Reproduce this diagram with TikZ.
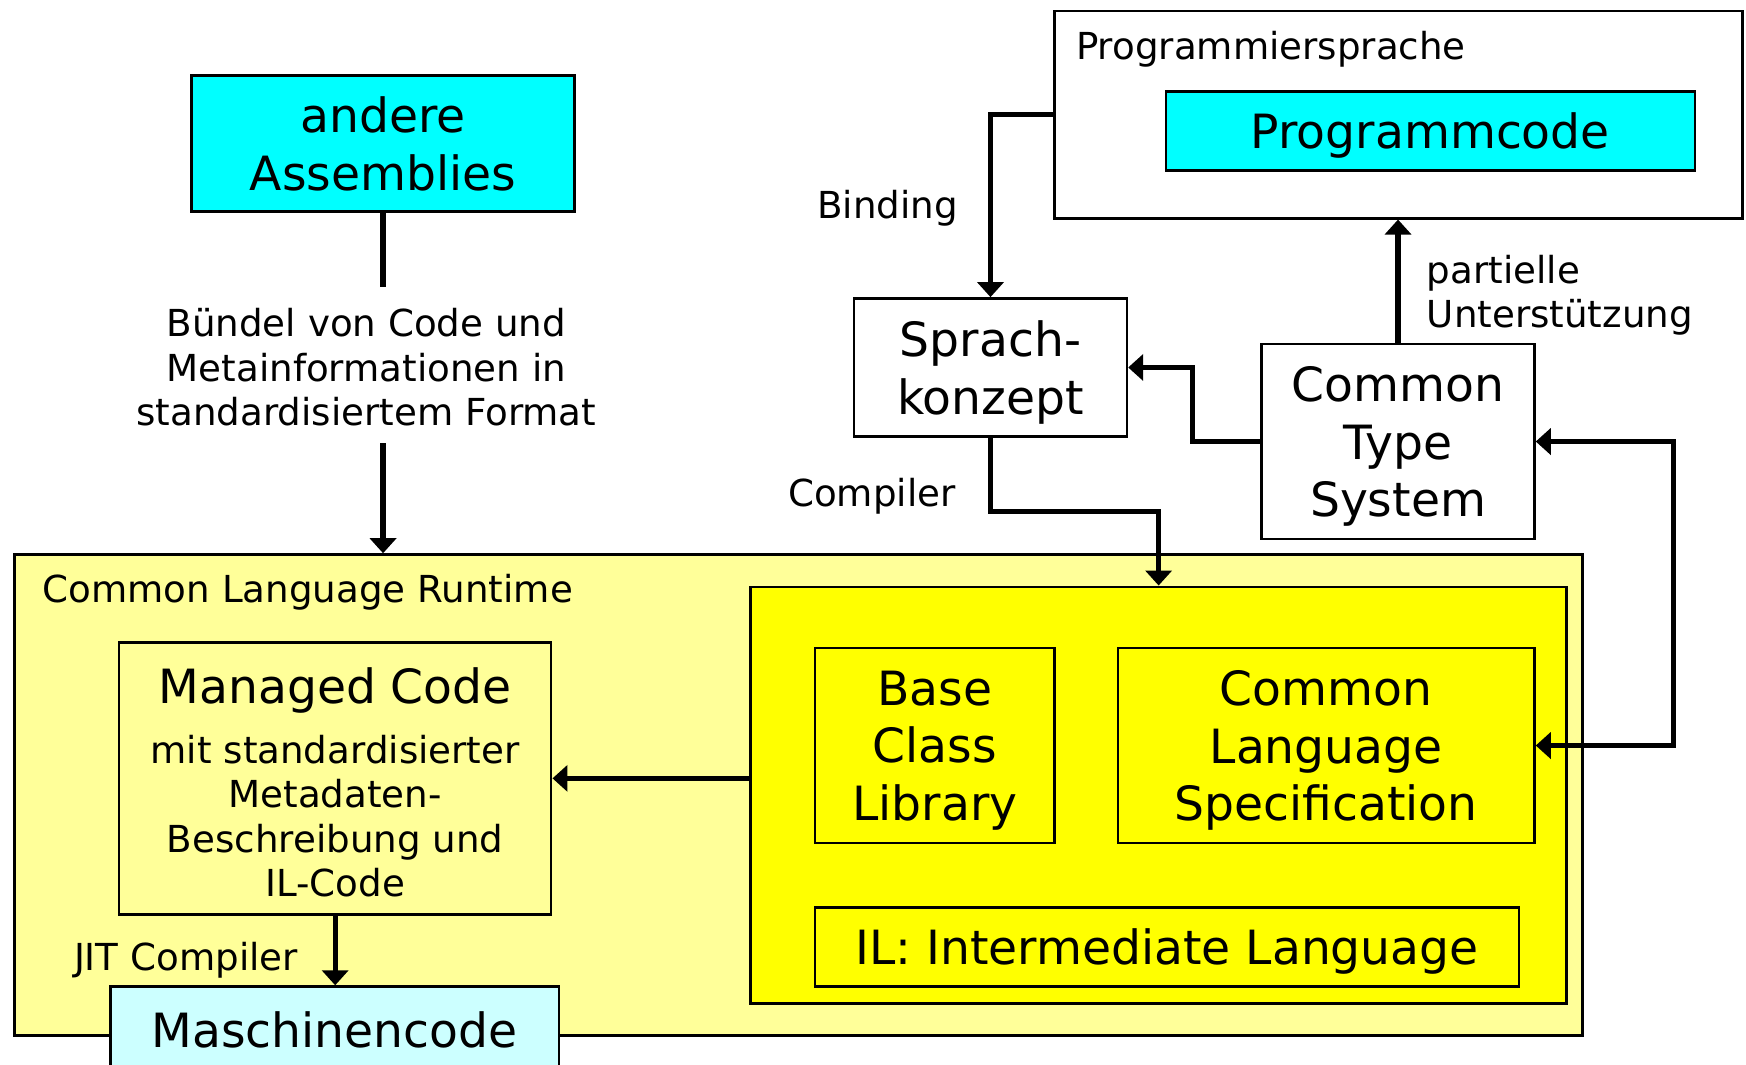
\documentclass[tikz,border=0pt]{standalone}
\usepackage{fontspec}
\setmainfont{DejaVu Sans}
\usetikzlibrary{arrows.meta,fit}
\definecolor{aqua}{HTML}{00FFFF}
\definecolor{paleyellow}{HTML}{FFFF99}
\definecolor{brightyellow}{HTML}{FFFF00}
\definecolor{palecyan}{HTML}{CCFFFF}
\newcommand\bigfont{\fontsize{23.6}{28.7}\selectfont}
\newcommand\smallfont{\fontsize{18.6}{22.3}\selectfont}

\begin{document}
\begin{tikzpicture}[x=0.5568pt,y=-0.5568pt,
  box/.style={draw, line width=1.3pt, inner sep=0pt},
  txt/.style={inner sep=0pt, align=center, font=\bigfont, text depth=0pt},
  lbl/.style={inner sep=0pt, font=\smallfont},
  head/.tip={Triangle[width=13pt,length=7.5pt]},
  conn/.style={line width=2.6pt, -head},
  plain/.style={line width=2.6pt},
]
\useasboundingbox (0,0) rectangle (1568,956);
\clip (0,0) rectangle (1568,956);

% language side
\node[box, fill=white, fit={(947,10)(1565,196)}] (prog) {};
\node[lbl, anchor=west] (progl) at (966,44) {Programmiersprache};
\node[box, fill=aqua, fit={(1047,82)(1522,153)}] (pcode) {};
\node[txt] (pcodet) at (pcode.center) {Programmcode};
\node[box, fill=white, fit={(767,268)(1012,392)}] (sprach) {};
\node[txt] (sprucht) at (sprach.center) {Sprach-\\konzept};
\node[box, fill=white, fit={(1133,309)(1378,484)}] (cts) {};
\node[txt] (ctst) at (cts.center) {Common\\Type\\System};
\node[lbl] (bind) at (797,187) {Binding};
\node[lbl] (comp) at (783,446) {Compiler};
\node[lbl, anchor=west, align=left] (part) at (1281,265) {partielle\\Unterstützung};

% assemblies
\node[box, fill=aqua, fit={(172,68)(516,190)}] (andere) {};
\node[txt] (anderet) at (andere.center) {andere\\Assemblies};
\node[lbl, align=center] (bundle) at (329,330) {Bündel von Code und\\Metainformationen in\\standardisiertem Format};
\coordinate (b1) at (344,258);
\coordinate (b2) at (344,398);

% runtime
\node[box, fill=paleyellow, fit={(13,498)(1421,930)}] (clr) {};
\node[lbl, anchor=west] (clrl) at (38,532) {Common Language Runtime};
\node[box, fill=brightyellow, fit={(674,527)(1407,901)}] (fw) {};
\node[box, fit={(732,582)(947,757)}] (bcl) {};
\node[txt] (bclt) at (bcl.center) {Base\\Class\\Library};
\node[box, fit={(1004,582)(1378,757)}] (cls) {};
\node[txt] (clst) at (cls.center) {Common\\Language\\Specification};
\node[box, fit={(732,815)(1364,886)}] (il) {};
\node[txt] (ilt) at (il.center) {IL: Intermediate Language};
\node[box, fill=paleyellow, fit={(107,577)(495,821)}] (mc) {};
\node[txt] (mct) at (301,616) {Managed Code};
\node[lbl, align=center] (mcd) at (301,733) {mit standardisierter\\Metadaten-\\Beschreibung und\\IL-Code};
\node[box, fill=palecyan, fit={(99,886)(502,964)}] (mach) {};
\node[txt] (macht) at (mach.center) {Maschinencode};
\node[lbl] (jit) at (167,862) {JIT Compiler};

% connectors
\draw[plain] (andere.south) -- (b1);
\draw[conn] (b2) -- (b2 |- clr.north);
\draw[conn] (prog.west) -| (sprach.north);
\coordinate (cbend) at (1040.5,459);
\draw[conn] (sprach.south) |- (cbend) -- (fw.north);
\draw[conn] (cts.west) -- ++(-61,0) |- (sprach.east);
\draw[conn] (cts.north) -- (cts.north |- prog.south);
\draw[line width=2.6pt, head-head] (cts.east) -- ++(124,0) |- (cls.east);
\draw[conn] (fw.west |- mc.east) -- (mc.east);
\draw[conn] (mc.south) -- (mc.south |- mach.north);
\end{tikzpicture}
\end{document}
